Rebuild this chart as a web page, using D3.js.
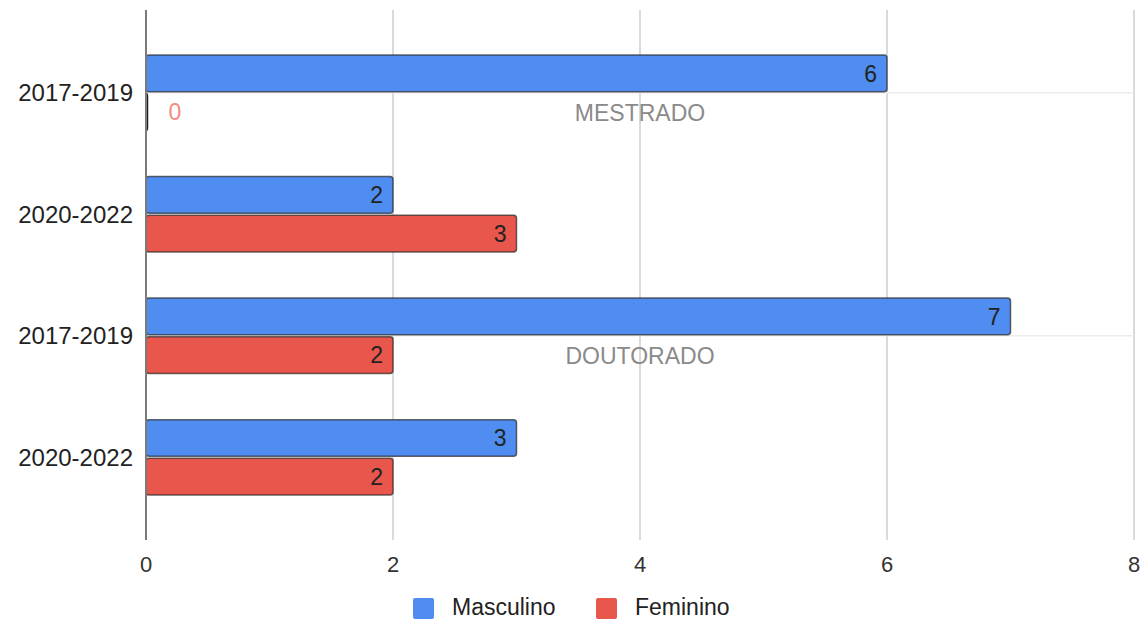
<!DOCTYPE html>
<html>
<head>
<meta charset="utf-8">
<script src="https://cdn.jsdelivr.net/npm/d3@7"></script>
<style>
  body { margin: 0; background: #fff; }
  svg { display: block; font-family: 'Liberation Sans', Arial, sans-serif; }
</style>
</head>
<body>
<div id="chart"></div>
<script>
(function() {
  'use strict';
  var periods = ['2017-2019', '2020-2022', '2017-2019', '2020-2022'],
      masculino = [6, 2, 7, 3],
      feminino = [0, 3, 2, 2],
      groups = ['MESTRADO', 'DOUTORADO'],
      groupRows = [0, 2],
      xTicks = [0, 2, 4, 6, 8],
      seriesNames = ['Masculino', 'Feminino'],
      colors = ['#4f8df1', '#e9564b'];

  var width = 1146, height = 622,
      margin = {top: 10, right: 12, bottom: 82, left: 146};

  var svg = d3.select('#chart').append('svg')
    .attr('width', width)
    .attr('height', height);

  var g = svg.append('g')
    .attr('transform', 'translate(' + margin.left + ',' + margin.top + ')');

  var innerH = height - margin.top - margin.bottom;

  var x = d3.scaleLinear().domain([0, 8]).range([0, 988]),
      y = d3.scaleBand().domain(d3.range(periods.length)).range([0, innerH])
        .paddingInner(0.38).paddingOuter(0.37),
      ySub = d3.scaleBand().domain([0, 1]).range([0, y.bandwidth()]).paddingInner(0.05);

  var rows = periods.map(function(p, i) {
    return {i: i, label: p, values: [masculino[i], feminino[i]]};
  });

  // vertical grid
  g.append('g').selectAll('line.grid')
    .data(xTicks.slice(1))
    .enter().append('line')
    .attr('x1', function(d) { return x(d); })
    .attr('x2', function(d) { return x(d); })
    .attr('y1', 0)
    .attr('y2', innerH)
    .attr('stroke', '#dadada')
    .attr('stroke-width', 2);

  // group lines + labels
  var grp = g.append('g');
  grp.selectAll('line')
    .data(groupRows)
    .enter().append('line')
    .attr('x1', 0)
    .attr('x2', x(8))
    .attr('y1', function(d) { return y(d) + y.bandwidth() / 2; })
    .attr('y2', function(d) { return y(d) + y.bandwidth() / 2; })
    .attr('stroke', '#ececec')
    .attr('stroke-width', 1.5);

  // bars
  var rowG = g.selectAll('g.row')
    .data(rows)
    .enter().append('g')
    .attr('transform', function(d) { return 'translate(0,' + y(d.i) + ')'; });

  rowG.selectAll('rect')
    .data(function(d) { return d.values.map(function(v, k) { return {v: v, k: k}; }); })
    .enter().append('rect')
    .attr('x', 0)
    .attr('y', function(d) { return ySub(d.k); })
    .attr('width', function(d) { return Math.max(x(d.v), 1.5); })
    .attr('height', ySub.bandwidth())
    .attr('rx', 3)
    .attr('fill', function(d) { return colors[d.k]; })
    .attr('stroke', function(d) { return d.v === 0 ? '#222' : 'rgba(40,40,40,0.7)'; })
    .attr('stroke-width', 1.5);

  rowG.selectAll('text')
    .data(function(d) { return d.values.map(function(v, k) { return {v: v, k: k}; }); })
    .enter().append('text')
    .attr('x', function(d) { return d.v === 0 ? x(0) + 29 : x(d.v) - 10; })
    .attr('y', function(d) { return ySub(d.k) + ySub.bandwidth() / 2; })
    .attr('dy', '0.36em')
    .attr('text-anchor', function(d) { return d.v === 0 ? 'middle' : 'end'; })
    .attr('font-size', 23)
    .attr('fill', function(d) { return d.v === 0 ? '#f28b82' : '#222'; })
    .text(function(d) { return d.v; });

  grp.selectAll('text')
    .data(groupRows)
    .enter().append('text')
    .attr('x', x(4))
    .attr('y', function(d) { return y(d) + y.bandwidth() / 2 + 20; })
    .attr('dy', '0.36em')
    .attr('text-anchor', 'middle')
    .attr('font-size', 23)
    .attr('fill', '#8a8a8a')
    .text(function(d, i) { return groups[i]; });

  // left axis line
  g.append('line')
    .attr('x1', 0).attr('x2', 0)
    .attr('y1', 0).attr('y2', innerH)
    .attr('stroke', '#7a7a7a')
    .attr('stroke-width', 2);

  // y labels
  g.append('g').selectAll('text')
    .data(rows)
    .enter().append('text')
    .attr('x', -13)
    .attr('y', function(d) { return y(d.i) + y.bandwidth() / 2; })
    .attr('dy', '0.36em')
    .attr('text-anchor', 'end')
    .attr('font-size', 24)
    .attr('fill', '#222')
    .text(function(d) { return d.label; });

  // x labels
  g.append('g').selectAll('text')
    .data(xTicks)
    .enter().append('text')
    .attr('x', function(d) { return x(d); })
    .attr('y', innerH + 24)
    .attr('dy', '0.36em')
    .attr('text-anchor', 'middle')
    .attr('font-size', 22)
    .attr('fill', '#333')
    .text(function(d) { return d; });

  // legend
  var legendX = [413, 596];
  var leg = svg.append('g').selectAll('g')
    .data(seriesNames)
    .enter().append('g')
    .attr('transform', function(d, i) { return 'translate(' + legendX[i] + ',598)'; });
  leg.append('rect')
    .attr('width', 21).attr('height', 21).attr('rx', 2)
    .attr('fill', function(d, i) { return colors[i]; });
  leg.append('text')
    .attr('x', 39).attr('y', 9).attr('dy', '0.34em')
    .attr('font-size', 23)
    .attr('fill', '#222')
    .text(function(d) { return d; });
})();
</script>
</body>
</html>
